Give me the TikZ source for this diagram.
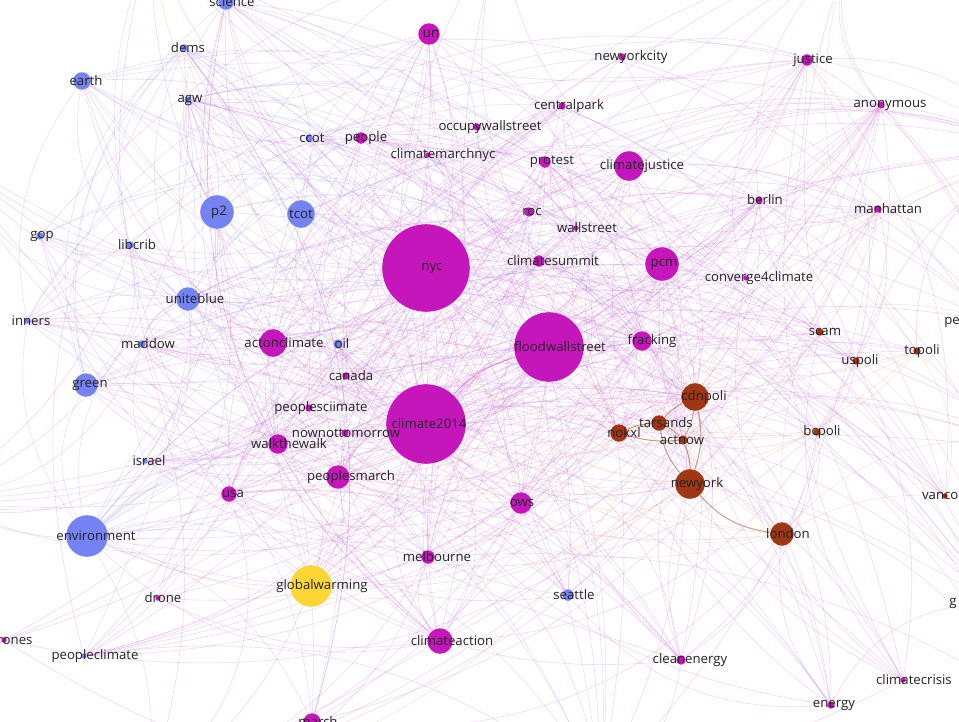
\documentclass[tikz,border=0pt]{standalone}
\usepackage{fontspec}
\setmainfont{Open Sans}
\usetikzlibrary{backgrounds}
\definecolor{tblue}{RGB}{116,130,242}
\definecolor{tmag}{RGB}{197,22,188}
\definecolor{tbrown}{RGB}{160,55,20}
\definecolor{tyellow}{RGB}{253,214,53}
\definecolor{labelgray}{RGB}{35,35,35}
\definecolor{pinkedge}{RGB}{205,110,215}
\definecolor{blueedge}{RGB}{150,150,235}
\definecolor{orangeedge}{RGB}{225,160,110}
\tikzset{
  tag/.style={circle,inner sep=0pt,draw=white,line width=0.3pt},
  taglabel/.style={inner sep=0pt,text=labelgray,font=\fontsize{13.2}{15}\selectfont},
  link/.style={line width=0.6pt,opacity=0.28},
  polilink/.style={line width=1pt,draw=tbrown!70,opacity=0.7}
}
% one arc between two random tags, skipped if both ends are the same
\newcommand\randlink[3]{%
  \pgfmathrandomitem\ea{#1}\edef\ea{\ea}%
  \pgfmathrandomitem\eb{#2}\edef\eb{\eb}%
  \pgfmathrandominteger\bn{15}{35}%
  \ifx\ea\eb\else\draw[link,#3] (\ea) to[bend left=\bn] (\eb);\fi}
% name/x/y/radius/label x/colour
\def\taglist{
science/226/2/8/232/tblue, dems/184/48/4/188/tblue, earth/82/81/9/86/tblue,
agw/188/100/4/190/tblue, ccot/309/138/4/312/tblue, p2/217/212/17/219/tblue,
tcot/301/214/14/301/tblue, gop/40/236/4/42/tblue, libcrib/130/245/4/137/tblue,
uniteblue/188/299/12/195/tblue, inners/27/321/3/31/tblue, maddow/142/344/4/148/tblue,
oil/338/344/5/342/tblue, green/86/385/12/90/tblue, israel/145/461/3/149/tblue,
environment/87/536/21/96/tblue, peopleclimate/84/656/3/95/tblue, seattle/568/595/6/574/tblue,
un/429/34/11/431/tmag, newyorkcity/622/57/4/631/tmag, justice/807/60/6/813/tmag,
anonymous/881/105/4/890/tmag, centralpark/562/106/4/569/tmag, occupywallstreet/477/127/4/490/tmag,
people/361/138/6/366/tmag, climatemarchnyc/428/155/3/443/tmag, protest/545/162/6/552/tmag,
climatejustice/629/166/15/642/tmag, berlin/759/200/4/765/tmag, roc/529/212/5/532/tmag,
wallstreet/576/228/3/587/tmag, manhattan/878/209/4/888/tmag, nyc/426/268/44/432/tmag,
climatesummit/539/261/6/553/tmag, pcm/662/264/17/664/tmag, converge4climate/746/278/3/759/tmag,
actonclimate/273/343/14/284/tmag, floodwallstreet/549/347/35/560/tmag, fracking/642/341/10/652/tmag,
canada/346/376/4/351/tmag, peoplesciimate/309/408/4/321/tmag, climate2014/426/424/40/429/tmag,
nownottomorrow/345/433/4/346/tmag, walkthewalk/278/444/10/289/tmag, peoplesmarch/338/477/12/351/tmag,
usa/229/494/8/233/tmag, ows/521/503/11/522/tmag, melbourne/428/557/7/437/tmag,
drone/158/598/3/163/tmag, climateaction/440/641/13/452/tmag, drones/4/640/3/11/tmag,
cleanenergy/681/660/5/690/tmag, climatecrisis/903/680/3/914/tmag, energy/831/705/4/834/tmag,
march/312/722/9/318/tmag, pe/995/322/4/952/tmag, g/995/603/4/953/tmag,
scam/820/332/4/825/tbrown, uspoli/856/361/4/860/tbrown, topoli/917/351/4/922/tbrown,
cdnpoli/695/397/14/704/tbrown, tarsands/659/423/8/666/tbrown, nokxl/619/433/9/624/tbrown,
actnow/683/440/5/682/tbrown, bcpoli/817/432/4/822/tbrown, newyork/690/484/15/697/tbrown,
london/782/534/12/788/tbrown, vancouver/945/496/3/954/tbrown,
globalwarming/311/586/21/322/tyellow}
\begin{document}
\begin{tikzpicture}[x=1pt,y=-1pt]
\useasboundingbox (0,0) rectangle (959,721);
\clip (0,0) rectangle (959,721);
\foreach \nm/\x/\y/\r/\lx/\col in \taglist
  \node[tag,fill=\col,minimum size=2*\r] (\nm) at (\x,\y) {};
\foreach \nm/\x/\y/\r/\lx/\col in \taglist
  \node[taglabel] (\nm-l) at (\lx,\y) {\nm};
% end points off the page
\foreach \nm/\x/\y in {offa/150/-60,offb/500/-70,offc/850/-50,offd/1040/150,offe/1040/450,
  offf/1030/700,offg/600/790,offh/150/790,offi/-70/500,offj/-60/150}
  \coordinate (\nm) at (\x,\y);
\pgfmathsetseed{2014}
\pgfmathdeclarerandomlist{hubs}{{nyc}{nyc}{nyc}{climate2014}{climate2014}{climate2014}
  {floodwallstreet}{floodwallstreet}{pcm}{climatejustice}{actonclimate}{un}
  {peoplesmarch}{climateaction}{ows}{walkthewalk}{usa}{globalwarming}{fracking}{people}
  {protest}{melbourne}{justice}{climatesummit}{roc}{anonymous}{manhattan}{berlin}}
\pgfmathdeclarerandomlist{blues}{{p2}{p2}{tcot}{tcot}{environment}{environment}{uniteblue}
  {green}{earth}{science}{gop}{libcrib}{dems}{agw}{inners}{maddow}}
\pgfmathdeclarerandomlist{browns}{{cdnpoli}{cdnpoli}{newyork}{newyork}{london}{london}
  {tarsands}{nokxl}{uspoli}{bcpoli}{topoli}{scam}}
\pgfmathdeclarerandomlist{tags}{{science}{dems}{earth}{agw}{ccot}{p2}{tcot}{gop}{libcrib}
  {uniteblue}{inners}{maddow}{oil}{green}{israel}{environment}{peopleclimate}{seattle}{un}
  {newyorkcity}{justice}{anonymous}{centralpark}{occupywallstreet}{people}{climatemarchnyc}
  {protest}{climatejustice}{berlin}{roc}{wallstreet}{manhattan}{nyc}{climatesummit}{pcm}
  {converge4climate}{actonclimate}{floodwallstreet}{fracking}{canada}{peoplesciimate}
  {climate2014}{nownottomorrow}{walkthewalk}{peoplesmarch}{usa}{ows}{melbourne}{drone}
  {climateaction}{cleanenergy}{climatecrisis}{energy}{scam}{uspoli}
  {topoli}{cdnpoli}{tarsands}{nokxl}{actnow}{bcpoli}{newyork}{london}{globalwarming}}
\pgfmathdeclarerandomlist{all}{{science}{dems}{earth}{agw}{ccot}{p2}{tcot}{gop}{libcrib}
  {uniteblue}{inners}{maddow}{oil}{green}{israel}{environment}{peopleclimate}{seattle}{un}
  {newyorkcity}{justice}{anonymous}{centralpark}{occupywallstreet}{people}{climatemarchnyc}
  {protest}{climatejustice}{berlin}{roc}{wallstreet}{manhattan}{nyc}{climatesummit}{pcm}
  {converge4climate}{actonclimate}{floodwallstreet}{fracking}{canada}{peoplesciimate}
  {climate2014}{nownottomorrow}{walkthewalk}{peoplesmarch}{usa}{ows}{melbourne}{drone}
  {climateaction}{drones}{cleanenergy}{climatecrisis}{energy}{march}{pe}{g}{scam}{uspoli}
  {topoli}{cdnpoli}{tarsands}{nokxl}{actnow}{bcpoli}{newyork}{london}{vancouver}
  {globalwarming}{offa}{offb}{offc}{offd}{offe}{offf}{offg}{offh}{offi}{offj}}
\begin{pgfonlayer}{background}
\foreach \i in {1,...,260} {\randlink{hubs}{all}{pinkedge}}
\foreach \i in {1,...,260} {\randlink{tags}{all}{pinkedge}}
\foreach \i in {1,...,100} {\randlink{blues}{all}{blueedge}}
\foreach \i in {1,...,40} {\randlink{browns}{all}{orangeedge}}
\draw[polilink] (cdnpoli) to[bend right=10] (tarsands);
\draw[polilink] (cdnpoli) to[bend left=10] (actnow);
\draw[polilink] (cdnpoli) to[bend left=15] (newyork);
\draw[polilink] (tarsands) to[bend right=10] (nokxl);
\draw[polilink] (tarsands) to[bend left=10] (actnow);
\draw[polilink] (tarsands) to[bend right=15] (newyork);
\draw[polilink] (nokxl) to[bend right=10] (actnow);
\draw[polilink] (actnow) to[bend left=10] (newyork);
\draw[polilink] (newyork) to[bend right=20] (london);
\draw[link,tmag,opacity=0.5] (climate2014) to[bend left=15] (floodwallstreet);
\end{pgfonlayer}
\end{tikzpicture}
\end{document}
